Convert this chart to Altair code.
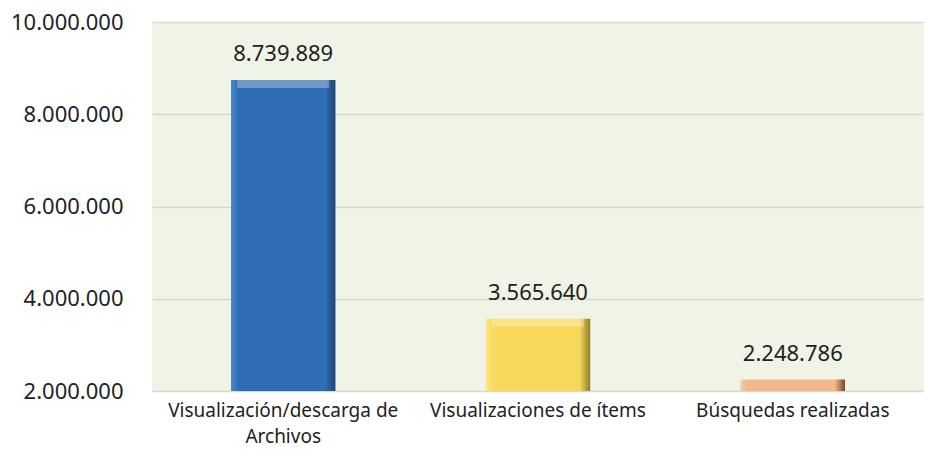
import altair as alt
import pandas as pd

categories = ["Visualización/descarga de Archivos", "Visualizaciones de ítems", "Búsquedas realizadas"]
values = [8739889, 3565640, 2248786]
labels = ["8.739.889", "3.565.640", "2.248.786"]
colors_light = ["#4C8AD0", "#FBE68A", "#F7CDA8"]
colors_mid = ["#2F6DB5", "#F7D95A", "#F2B88A"]
colors_dark = ["#1D4677", "#8C7A28", "#7A4A2A"]

df = pd.DataFrame({"cat": categories, "val": values, "lab": labels})

FONT = "Noto Sans"
ymin, ymax = 2000000, 10000000

x = alt.X("cat:N", sort=categories, title=None,
          scale=alt.Scale(paddingInner=0.59, paddingOuter=0.31),
          axis=alt.Axis(labelAngle=0, labelFontSize=19, labelFont=FONT, labelColor="#222",
                        labelPadding=10, ticks=False, domain=False, labelLimit=400,
                        labelLineHeight=26, labelBaseline="top",
                        labelExpr="datum.value == 'Visualización/descarga de Archivos' ? ['Visualización/descarga de', 'Archivos'] : datum.value"))
y = alt.Y("val:Q", title=None,
          scale=alt.Scale(domain=[ymin, ymax], zero=False, nice=False),
          axis=alt.Axis(values=[2000000, 4000000, 6000000, 8000000, 10000000], format=",d",
                        labelFontSize=22, labelFont=FONT, labelColor="#222", labelPadding=29,
                        ticks=False, domain=False, gridColor="#D6D9CF", gridWidth=1.3))

bars = []
for i, cat in enumerate(categories):
    sub = df[df.cat == cat]
    b = alt.Chart(sub).mark_bar(
        color=alt.Gradient(gradient="linear", x1=0, x2=1, y1=0, y2=0,
                           stops=[alt.GradientStop(color=colors_light[i], offset=0),
                                  alt.GradientStop(color=colors_mid[i], offset=0.07),
                                  alt.GradientStop(color=colors_mid[i], offset=0.9),
                                  alt.GradientStop(color=colors_dark[i], offset=1)])
    ).encode(x=x, y=y, y2=alt.datum(ymin))
    bars.append(b)

top = alt.Chart(df[df.val > 3000000]).mark_tick(
    color="white", opacity=0.3, thickness=8, size=92, yOffset=4, orient="horizontal"
).encode(x=alt.X("cat:N", sort=categories), y="val:Q")

text = alt.Chart(df).mark_text(dy=-26, fontSize=22, font=FONT, color="#222").encode(
    x=alt.X("cat:N", sort=categories), y="val:Q", text="lab:N")

chart = alt.layer(*bars, top, text).properties(
    width=772, height=369,
    padding={"left": 2, "top": 3, "right": 0, "bottom": 4},
).configure_view(fill="#F0F4E6", stroke=None).configure_axisX(grid=False)

chart.save("out.html", embed_options={"renderer": "svg", "actions": False,
                                      "formatLocale": {"decimal": ",", "thousands": ".", "grouping": [3], "currency": ["", "€"]}})
